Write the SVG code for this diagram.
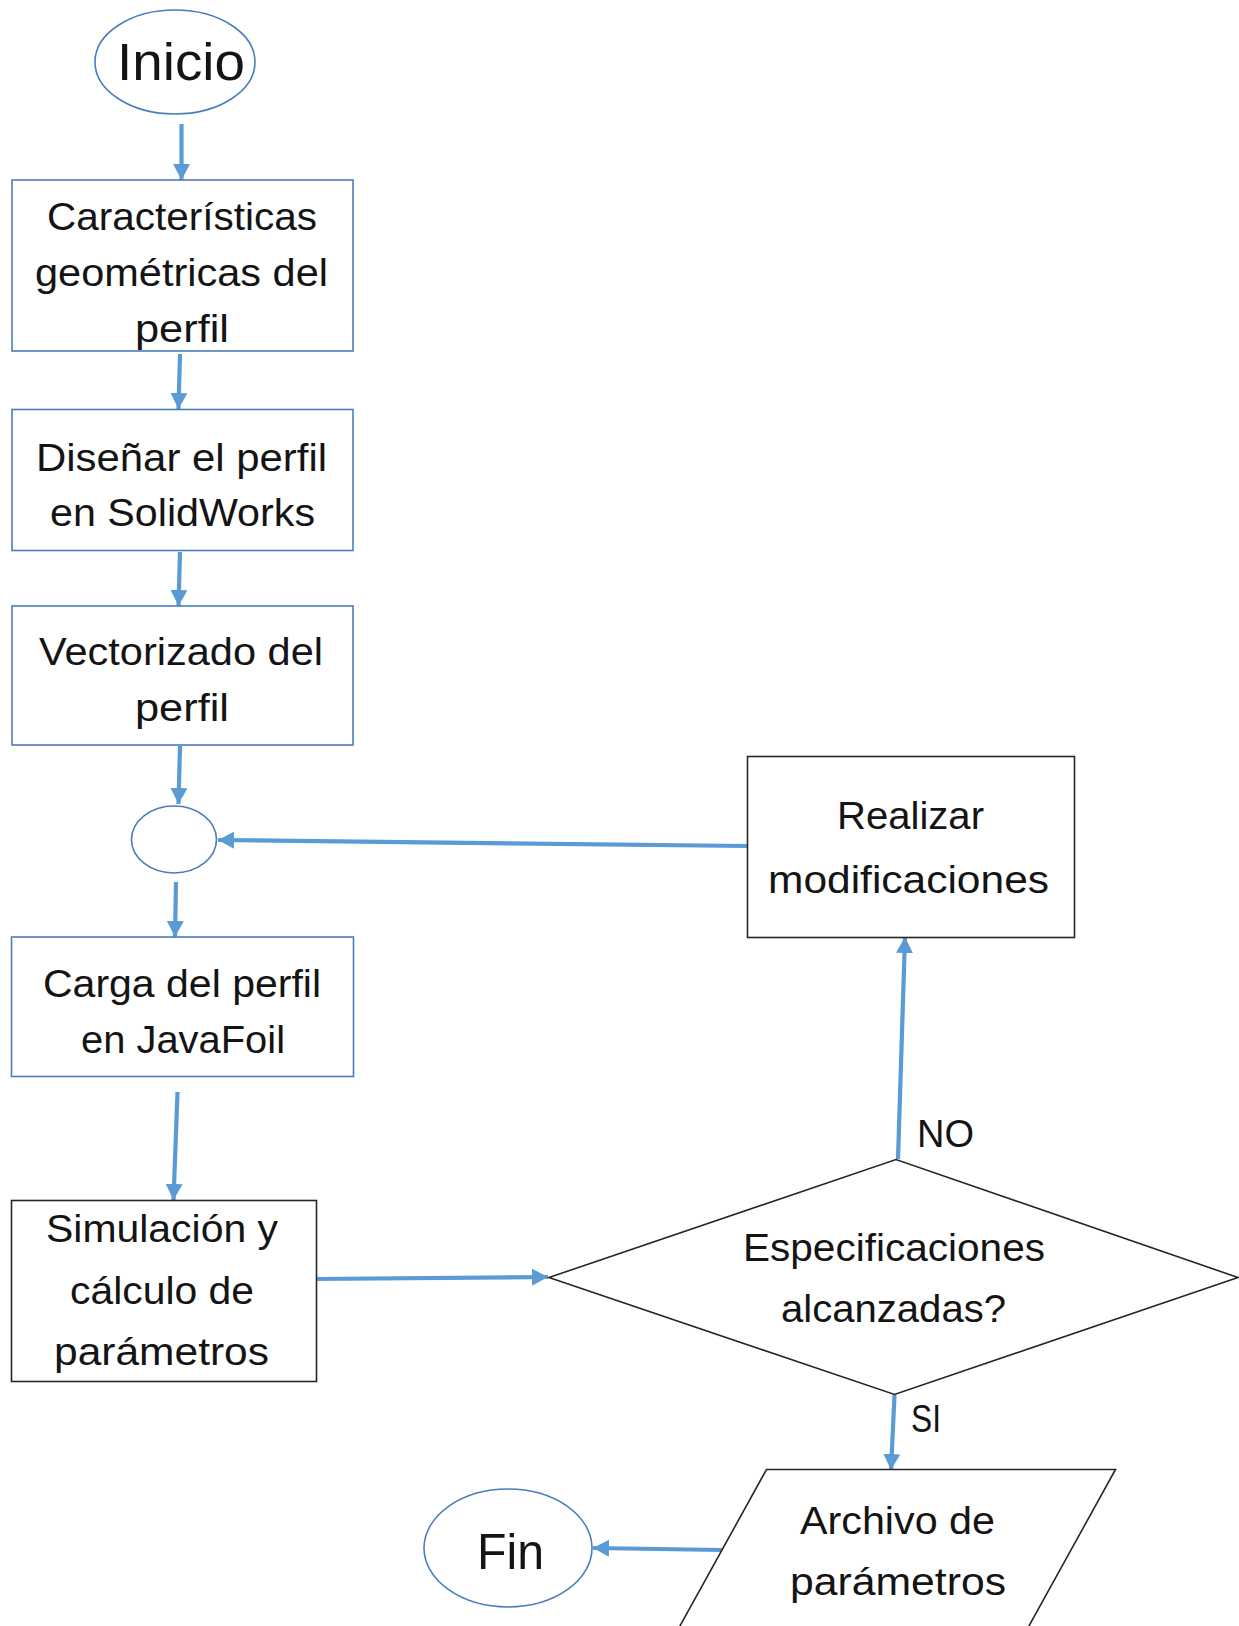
<svg xmlns="http://www.w3.org/2000/svg" width="1239" height="1626" viewBox="0 0 1239 1626">
<style>
.t{font-family:"Liberation Sans",Arial,sans-serif;font-size:38px;fill:#141414}
.big{font-size:51px}
.bb{fill:#fff;stroke:#4A7EBB;stroke-width:1.6}
.kb{fill:#fff;stroke:#262626;stroke-width:1.6}
.c{fill:none;stroke:#5B9BD5;stroke-width:4.2;marker-end:url(#ah)}
</style>
<defs>
<marker id="ah" markerUnits="userSpaceOnUse" markerWidth="17" markerHeight="17" refX="16" refY="8.5" orient="auto">
<path d="M0,0 L16,8.5 L0,17 z" fill="#5B9BD5"/>
</marker>
</defs>
<rect width="1239" height="1626" fill="#fff"/>
<g id="connectors">
<line class="c" x1="181.5" y1="124" x2="181.5" y2="180"/>
<line class="c" x1="180" y1="354" x2="178.5" y2="409"/>
<line class="c" x1="180" y1="552" x2="178.5" y2="606"/>
<line class="c" x1="180" y1="746" x2="178.5" y2="804"/>
<line class="c" x1="176" y1="882" x2="175" y2="937"/>
<line class="c" x1="177.5" y1="1092" x2="173.5" y2="1200"/>
<line class="c" x1="314" y1="1279" x2="548" y2="1277"/>
<line class="c" x1="747" y1="846" x2="218" y2="840"/>
<line class="c" x1="898" y1="1159" x2="905" y2="937"/>
<line class="c" x1="894.5" y1="1395" x2="891" y2="1470"/>
<line class="c" x1="722" y1="1550" x2="593" y2="1548"/>
</g>
<g id="inicio">
<ellipse class="bb" cx="175" cy="62" rx="80" ry="52"/>
<text class="t big" x="117" y="80" textLength="128" lengthAdjust="spacingAndGlyphs">Inicio</text>
</g>
<g id="caracteristicas">
<rect class="bb" x="12" y="180" width="341" height="171"/>
<text class="t" x="47" y="230" textLength="270" lengthAdjust="spacingAndGlyphs">Características</text>
<text class="t" x="35" y="286" textLength="293" lengthAdjust="spacingAndGlyphs">geométricas del</text>
<text class="t" x="135" y="342" textLength="94" lengthAdjust="spacingAndGlyphs">perfil</text>
</g>
<g id="disenar">
<rect class="bb" x="12" y="409.5" width="341" height="141"/>
<text class="t" x="36" y="471" textLength="291" lengthAdjust="spacingAndGlyphs">Diseñar el perfil</text>
<text class="t" x="50" y="526" textLength="265" lengthAdjust="spacingAndGlyphs">en SolidWorks</text>
</g>
<g id="vectorizado">
<rect class="bb" x="12" y="606" width="341" height="139"/>
<text class="t" x="39" y="665" textLength="284" lengthAdjust="spacingAndGlyphs">Vectorizado del</text>
<text class="t" x="135" y="721" textLength="94" lengthAdjust="spacingAndGlyphs">perfil</text>
</g>
<g id="union">
<ellipse class="bb" cx="174" cy="839.5" rx="42.5" ry="33.5"/>
</g>
<g id="carga">
<rect class="bb" x="11.5" y="937" width="342" height="139.5"/>
<text class="t" x="43" y="997" textLength="278" lengthAdjust="spacingAndGlyphs">Carga del perfil</text>
<text class="t" x="81" y="1053" textLength="204" lengthAdjust="spacingAndGlyphs">en JavaFoil</text>
</g>
<g id="simulacion">
<rect class="kb" x="11.5" y="1200.5" width="305" height="181"/>
<text class="t" x="46" y="1242" textLength="232" lengthAdjust="spacingAndGlyphs">Simulación y</text>
<text class="t" x="70" y="1304" textLength="184" lengthAdjust="spacingAndGlyphs">cálculo de</text>
<text class="t" x="54" y="1365" textLength="215" lengthAdjust="spacingAndGlyphs">parámetros</text>
</g>
<g id="realizar">
<rect class="kb" x="747.5" y="756.5" width="327" height="181"/>
<text class="t" x="837" y="829" textLength="147" lengthAdjust="spacingAndGlyphs">Realizar</text>
<text class="t" x="768" y="893" textLength="281" lengthAdjust="spacingAndGlyphs">modificaciones</text>
</g>
<g id="decision">
<polygon class="kb" points="549,1277.5 896,1159.5 1238,1277.5 894.5,1394.5"/>
<text class="t" x="743" y="1261" textLength="302" lengthAdjust="spacingAndGlyphs">Especificaciones</text>
<text class="t" x="781" y="1322" textLength="225" lengthAdjust="spacingAndGlyphs">alcanzadas?</text>
</g>
<g id="labels">
<text class="t" x="917" y="1147" textLength="57" lengthAdjust="spacingAndGlyphs">NO</text>
<text class="t" x="911" y="1432" textLength="30" lengthAdjust="spacingAndGlyphs">SI</text>
</g>
<g id="archivo">
<polygon class="kb" points="766.5,1469.5 1115.5,1469.5 988,1700 639,1700"/>
<text class="t" x="800" y="1534" textLength="195" lengthAdjust="spacingAndGlyphs">Archivo de</text>
<text class="t" x="790" y="1595" textLength="216" lengthAdjust="spacingAndGlyphs">parámetros</text>
</g>
<g id="fin">
<ellipse class="bb" cx="508" cy="1548" rx="84" ry="59"/>
<text class="t" x="477" y="1569" style="font-size:50px" textLength="67" lengthAdjust="spacingAndGlyphs">Fin</text>
</g>
</svg>
